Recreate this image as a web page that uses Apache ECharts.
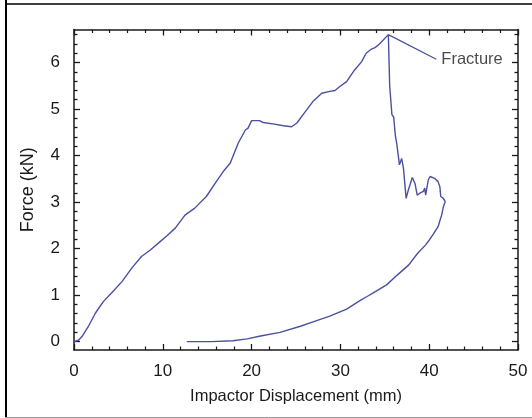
<!DOCTYPE html>
<html>
<head>
<meta charset="utf-8">
<script src="https://cdn.jsdelivr.net/npm/echarts@6/dist/echarts.min.js"></script>
<style>
html,body{margin:0;padding:0;background:#fff;}
#chart{width:532px;height:418px;}
</style>
</head>
<body>
<div id="chart"></div>
<script>
// ---- data ----
const loadingX = [0,0.5,0.9,1.6,2.4,3.3,4.2,5.4,6.5,7.6,8.6,9.7,10.5,11.4,12.5,13.6,14.9,16.1,16.9,17.2,17.6,18.5,19.3,19.6,19.8,20.0,20.9,21.3,22.4,23.6,24.5,25.1,25.8,26.9,27.9,28.8,29.4,29.9,30.7,31.6,32.4,32.9,33.5,33.9,34.4,35.4];
const loadingY = [0,0.03,0.11,0.32,0.61,0.86,1.04,1.29,1.58,1.83,1.97,2.15,2.28,2.44,2.72,2.87,3.12,3.46,3.68,3.75,3.84,4.27,4.55,4.59,4.62,4.75,4.75,4.71,4.68,4.64,4.62,4.70,4.88,5.16,5.34,5.38,5.40,5.48,5.59,5.84,6.02,6.20,6.29,6.32,6.40,6.60];
const fractureX = [35.55,35.8,36.0,36.2,36.35,36.55,36.65,36.9,37.1,37.4,37.65,38.1,38.4,38.65,38.95,39.35,39.5,39.6,39.9,40.1,40.6,41.0,41.2,41.3,41.6,41.8];
const fractureY = [5.5,4.88,4.83,4.41,4.25,3.95,3.80,3.94,3.73,3.08,3.26,3.53,3.40,3.15,3.19,3.23,3.30,3.15,3.48,3.55,3.51,3.44,3.33,3.12,3.08,3.01];
const unloadX = [41.6,41.4,41.2,41.0,40.5,40.0,39.6,38.7,37.7,36.4,35.2,33.7,33.0,32.2,30.7,28.8,27.0,25.5,23.2,21.0,19.5,17.9,15.5,12.7];
const unloadY = [2.9,2.72,2.6,2.47,2.32,2.18,2.08,1.90,1.65,1.43,1.22,1.05,0.97,0.88,0.70,0.55,0.43,0.33,0.20,0.12,0.06,0.02,0.0,0.0];
const annotX = [35.4,40.8];
const annotY = [6.6,6.07];
const annotText = 'Fracture';
const xTicks = [0,10,20,30,40,50];
const yTicks = [0,1,2,3,4,5,6];
const xTitle = 'Impactor Displacement (mm)';
const yTitle = 'Force (kN)';

// ---- build ----
const pairs = (xs, ys) => xs.map((x, i) => [x, ys[i]]);
const curve = pairs(loadingX, loadingY).concat(pairs(fractureX, fractureY), pairs(unloadX, unloadY));
const yMinor = [];
for (let v = 0; v <= 6.61; v += 0.2) {
  const r = Math.round(v * 10) / 10;
  if (Math.abs(r - Math.round(r)) > 1e-6) yMinor.push(r);
}
const lineCol = '#4b50a0';
const axisCol = '#1a1a1a';
const txtCol = '#1a1a1a';
const FONT = '"Liberation Sans", Arial, sans-serif';
const yMin = -0.18, yMax = 6.71;

function yAx(pos, values, len, showLine, extra) {
  return Object.assign({
    type: 'value', position: pos, min: yMin, max: yMax,
    axisLine: { show: showLine, onZero: false, lineStyle: { color: axisCol, width: 1.5 } },
    axisTick: { show: true, inside: true, length: len, customValues: values, lineStyle: { color: axisCol, width: 1.3 } },
    axisLabel: { show: false },
    splitLine: { show: false }
  }, extra || {});
}
function xAx(pos, showLabel, extra) {
  return Object.assign({
    type: 'value', position: pos, min: xTicks[0], max: xTicks[xTicks.length - 1], interval: 10,
    axisLine: { show: true, onZero: false, lineStyle: { color: axisCol, width: 1.5 } },
    axisTick: { show: true, inside: true, length: 6, lineStyle: { color: axisCol, width: 1.3 } },
    minorTick: { show: true, splitNumber: 5, length: 3.5, lineStyle: { color: axisCol, width: 1.2 } },
    axisLabel: { show: showLabel, color: txtCol, fontSize: 17, fontFamily: FONT, margin: 13 },
    splitLine: { show: false }, minorSplitLine: { show: false }
  }, extra || {});
}

const chart = echarts.init(document.getElementById('chart'), null, { renderer: 'canvas' });
chart.setOption({
  backgroundColor: '#fff',
  animation: false,
  grid: { left: 74, right: 14, top: 29.5, bottom: 68 },
  xAxis: [
    xAx('bottom', true, {
      name: xTitle, nameLocation: 'middle', nameGap: 38,
      nameTextStyle: { color: txtCol, fontSize: 16.5, fontFamily: FONT }
    }),
    xAx('top', false)
  ],
  yAxis: [
    yAx('left', yTicks, 6, true, {
      axisLabel: { show: true, customValues: yTicks, color: txtCol, fontSize: 17, fontFamily: FONT, margin: 14 },
      name: yTitle, nameLocation: 'middle', nameGap: 37,
      nameTextStyle: { color: txtCol, fontSize: 18, fontFamily: FONT }
    }),
    yAx('left', yMinor, 3.5, false),
    yAx('right', yTicks, 6, true),
    yAx('right', yMinor, 3.5, false)
  ],
  series: [
    {
      type: 'line', data: curve, xAxisIndex: 0, yAxisIndex: 0,
      showSymbol: false, symbol: 'none', smooth: false,
      lineStyle: { color: lineCol, width: 1.4 }
    },
    {
      type: 'line', data: pairs(annotX, annotY), xAxisIndex: 0, yAxisIndex: 0,
      showSymbol: false, symbol: 'none',
      lineStyle: { color: lineCol, width: 1.3 }
    },
    {
      type: 'scatter', data: [[annotX[1], annotY[1]]], xAxisIndex: 0, yAxisIndex: 0,
      symbolSize: 0,
      label: { show: true, position: 'right', distance: 5, formatter: annotText,
               color: txtCol, fontSize: 16.5, fontFamily: FONT }
    }
  ],
  graphic: [
    { type: 'line', shape: { x1: 6, y1: 0, x2: 6, y2: 418 }, style: { stroke: '#000', lineWidth: 2 } },
    { type: 'line', shape: { x1: 5, y1: 4, x2: 532, y2: 4 }, style: { stroke: '#000', lineWidth: 1.5 } },
    { type: 'line', shape: { x1: 5, y1: 417.5, x2: 532, y2: 417.5 }, style: { stroke: '#999', lineWidth: 1 } }
  ]
});
</script>
</body>
</html>
